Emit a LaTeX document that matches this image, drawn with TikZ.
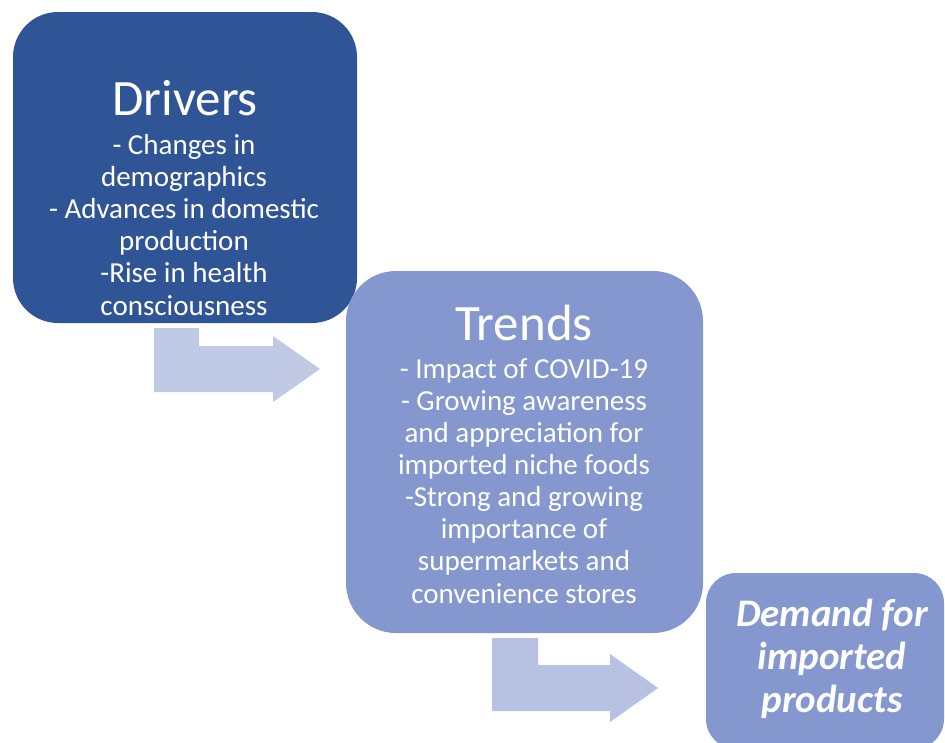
\documentclass[tikz,border=0pt]{standalone}
\usepackage{fontspec}
\setmainfont{Carlito}
\begin{document}
\begin{tikzpicture}[x=1pt,y=-1pt,
  box/.style={rectangle, inner sep=0pt, outer sep=0pt, draw=none},
  darkbox/.style={box, fill=darkblue},
  lightbox/.style={box, fill=midblue},
  title/.style={text=white, font=\fontsize{51}{60}\selectfont, anchor=base, inner sep=0pt},
  % multi-line texts are placed by the baseline of their last line
  body/.style={text=white, align=center, anchor=base, inner sep=0pt,
    font=\fontsize{29}{32.1}\selectfont},
  result/.style={text=white, align=center, anchor=base, inner sep=0pt,
    font=\fontsize{39}{43}\selectfont\bfseries\itshape},
  blockarrow/.style={draw=none}
]
\definecolor{darkblue}{RGB}{47,85,151}
\definecolor{midblue}{RGB}{132,151,207}
\definecolor{arrowA}{RGB}{192,202,228}
\definecolor{arrowB}{RGB}{183,194,226}

\useasboundingbox (0,0) rectangle (945,742);

% stage boxes
\node[darkbox, minimum width=344pt, minimum height=311pt, rounded corners=45pt] (drivers) at (185,167.5) {};
\node[lightbox, minimum width=357pt, minimum height=362pt, rounded corners=50pt] (trends) at (524.5,452) {};
\begin{scope}
  \clip (0,0) rectangle (945,742);
  \node[lightbox, minimum width=238pt, minimum height=176pt, rounded corners=30pt] (demand) at (825,661) {};
\end{scope}

% bent block arrows between the stages
\fill[arrowA, blockarrow] (154,328) -- (199,328) -- (199,346) -- (273,346) -- (273,336)
  -- (320,369) -- (273,402) -- (273,392) -- (154,392) -- cycle;
\fill[arrowB, blockarrow] (492,638) -- (538,638) -- (538,665) -- (610,665) -- (610,654)
  -- (658,688) -- (610,722) -- (610,711) -- (492,711) -- cycle;

% texts
\node[title] (driverstitle) at (185,115) {Drivers};
\node[body] (driverstext) at (184,315) {- Changes in\\demographics\\- Advances in domestic\\production\\-Rise in health\\consciousness};

\node[title] (trendstitle) at (524,340) {Trends};
\node[body] (trendstext) at (524,603) {- Impact of COVID-19\\- Growing awareness\\and appreciation for\\imported niche foods\\-Strong and growing\\importance of\\supermarkets and\\convenience stores};

\node[result] (demandtext) at (832,712) {Demand for\\imported\\products};
\end{tikzpicture}
\end{document}
